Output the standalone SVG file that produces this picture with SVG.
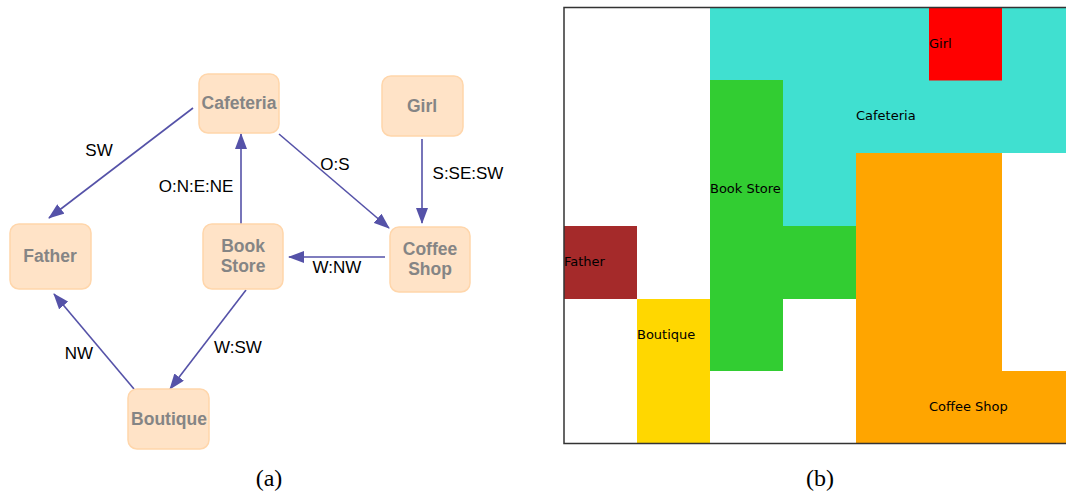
<svg xmlns="http://www.w3.org/2000/svg" width="1066" height="495" viewBox="0 0 1066 495">
<style>
.node rect{fill:#ffe3c7;stroke:#ffd6ab;stroke-width:1.5}
.node text{font-family:"Liberation Sans",Arial,sans-serif;font-weight:bold;font-size:17.5px;fill:#858585;text-anchor:middle}
.edge{stroke:#5552a8;stroke-width:1.6;fill:none;marker-end:url(#arr)}
.elab{font-family:"Liberation Sans",Arial,sans-serif;font-size:17px;fill:#000;text-anchor:middle}
.cell{font-family:"DejaVu Sans",sans-serif;font-size:13px;fill:#000}
.cap{font-family:"Liberation Serif","Times New Roman",serif;font-size:24px;fill:#000;text-anchor:middle}
</style>
<defs>
<marker id="arr" markerUnits="userSpaceOnUse" markerWidth="16" markerHeight="12" refX="15" refY="6" orient="auto">
<path d="M0,0 L16,6 L0,12 z" fill="#5552a8"/>
</marker>
</defs>
<rect width="1066" height="495" fill="#fff"/>
<g id="connectors">
<line class="edge" x1="193" y1="108" x2="49" y2="218"/>
<line class="edge" x1="241" y1="224" x2="241" y2="134"/>
<line class="edge" x1="279" y1="134" x2="389" y2="228"/>
<line class="edge" x1="422" y1="139" x2="422" y2="223"/>
<line class="edge" x1="385" y1="257" x2="289" y2="257"/>
<line class="edge" x1="246" y1="290" x2="170" y2="389"/>
<line class="edge" x1="134" y1="389" x2="54" y2="294"/>
<text class="elab" x="99" y="156">SW</text>
<text class="elab" x="196" y="192">O:N:E:NE</text>
<text class="elab" x="335" y="170">O:S</text>
<text class="elab" x="468" y="179">S:SE:SW</text>
<text class="elab" x="337" y="273">W:NW</text>
<text class="elab" x="238" y="353">W:SW</text>
<text class="elab" x="79" y="359">NW</text>
</g>
<g id="node-cafeteria" class="node"><rect x="199" y="74" width="80" height="59" rx="9"/><text x="239" y="109">Cafeteria</text></g>
<g id="node-girl" class="node"><rect x="382" y="76" width="81" height="60" rx="9"/><text x="422" y="112">Girl</text></g>
<g id="node-father" class="node"><rect x="10" y="224" width="81" height="65" rx="9"/><text x="50" y="262">Father</text></g>
<g id="node-bookstore" class="node"><rect x="203" y="224" width="80" height="65" rx="9"/><text x="243" y="252">Book</text><text x="243" y="272">Store</text></g>
<g id="node-coffeeshop" class="node"><rect x="390" y="227" width="80" height="65" rx="9"/><text x="430" y="255">Coffee</text><text x="430" y="275">Shop</text></g>
<g id="node-boutique" class="node"><rect x="128" y="389" width="81" height="60" rx="9"/><text x="169" y="425">Boutique</text></g>
<text class="cap" x="269" y="486">(a)</text>
<g id="grid">
<g fill="#40e0d0">
<rect x="710" y="7.5" width="219" height="73"/>
<rect x="1002" y="7.5" width="64" height="73"/>
<rect x="783" y="80" width="283" height="73"/>
<rect x="783" y="153" width="73" height="73"/>
</g>
<rect x="929" y="7.5" width="73" height="73" fill="#ff0000"/>
<g fill="#32cd32">
<rect x="710" y="80" width="73" height="291"/>
<rect x="783" y="226" width="73" height="73"/>
</g>
<g fill="#ffa500">
<rect x="856" y="153" width="146" height="290"/>
<rect x="1002" y="371" width="64" height="72"/>
</g>
<rect x="564" y="226" width="73" height="73" fill="#a52a2a"/>
<rect x="637" y="299" width="73" height="144" fill="#ffd700"/>
<path d="M1066,7.5 H564 V443.5 H1066" fill="none" stroke="#333" stroke-width="1.5"/>
<text class="cell" x="929" y="48">Girl</text>
<text class="cell" x="856" y="120">Cafeteria</text>
<text class="cell" x="710" y="193">Book Store</text>
<text class="cell" x="564" y="266">Father</text>
<text class="cell" x="637" y="339">Boutique</text>
<text class="cell" x="929" y="411">Coffee Shop</text>
</g>
<text class="cap" x="820" y="486">(b)</text>
</svg>
